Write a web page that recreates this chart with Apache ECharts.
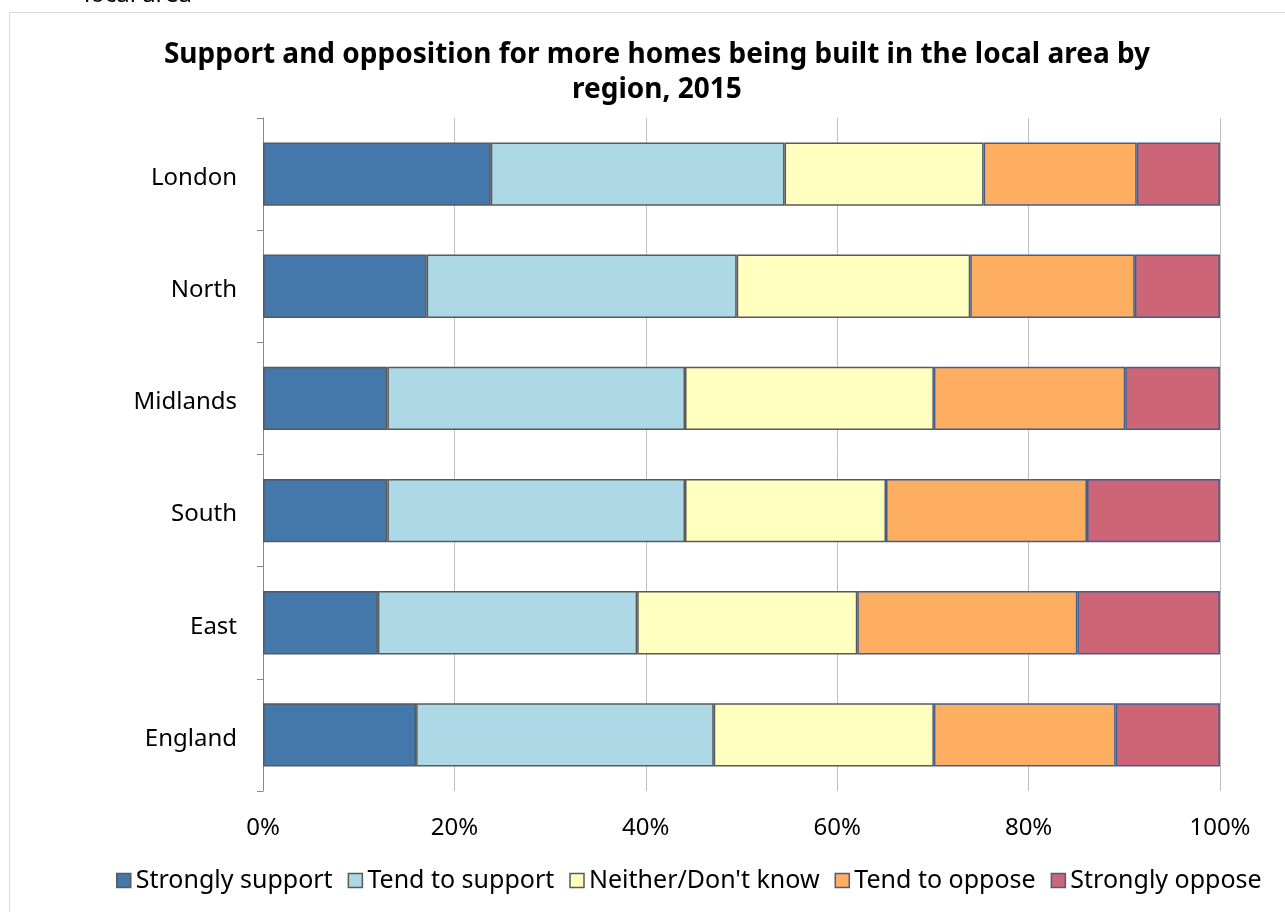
<!DOCTYPE html>
<html><head><meta charset="utf-8">
<script src="https://cdn.jsdelivr.net/npm/echarts@6/dist/echarts.min.js"></script>
<style>html,body{margin:0;padding:0;background:#fff}#c{width:1285px;height:912px}</style>
</head><body><div id="c"></div>
<script>
const categories = ["London","North","Midlands","South","East","England"];
const seriesNames = ["Strongly support","Tend to support","Neither/Don't know","Tend to oppose","Strongly oppose"];
const stronglySupport = [23.8,17.1,13.0,13.0,12.0,16.0];
const tendSupport     = [30.7,32.4,31.1,31.1,27.1,31.1];
const neither         = [20.8,24.4,26.0,21.0,23.0,23.0];
const tendOppose      = [16.0,17.2,20.0,21.0,23.0,19.0];
const stronglyOppose  = [8.7,8.9,9.9,13.9,14.9,10.9];
const xTicks = [0,20,40,60,80,100];

const colors = ["#4477AA","#ADD8E6","#FFFFC0","#FDAE61","#CC6677"];
const borders = ["#595959","#595959","#595959","#3F5F8F","#3F5F8F"];
const values = [stronglySupport,tendSupport,neither,tendOppose,stronglyOppose];
const FONT = "'Noto Sans','Open Sans',sans-serif";

const chart = echarts.init(document.getElementById('c'));
chart.setOption({
  animation:false,
  backgroundColor:'#fff',
  graphic:[
    {type:'rect',shape:{x:9.5,y:12.5,width:1290,height:920},style:{fill:'none',stroke:'#d9d9d9',lineWidth:1},z:-1},
    {type:'text',left:84,top:-17,style:{text:'local area',fontSize:24,fontFamily:FONT,fill:'#000'}}
  ],
  title:{
    text:'Support and opposition for more homes being built in the local area by\nregion, 2015',
    left:652,top:33,textAlign:'center',
    textStyle:{fontSize:28,fontWeight:'bold',fontFamily:FONT,color:'#000',lineHeight:35}
  },
  legend:{
    bottom:14,left:111,itemWidth:14,itemHeight:14,itemGap:15,
    textStyle:{fontSize:25,fontFamily:FONT,color:'#000'},
    data:seriesNames.map((n,i)=>({name:n,icon:'rect',itemStyle:{borderColor:borders[i],borderWidth:1.5}}))
  },
  grid:{left:263,right:65,top:118,bottom:121,containLabel:false},
  xAxis:{
    type:'value',min:0,max:100,interval:20,
    axisLine:{show:false},axisTick:{show:false},
    splitLine:{lineStyle:{color:'#c0c0c0',width:1}},
    axisLabel:{formatter:v=>xTicks.includes(v)?v+'%':'',fontSize:24,fontFamily:FONT,color:'#000',margin:25}
  },
  yAxis:{
    type:'category',data:categories,inverse:true,
    axisLine:{lineStyle:{color:'#888',width:1}},
    axisTick:{show:true,length:6,lineStyle:{color:'#888'}},
    axisLabel:{fontSize:24,fontFamily:FONT,color:'#000',margin:26,
      formatter:v=>'{a|'+v+'}',
      rich:{a:{fontSize:24,fontFamily:FONT,color:'#000',padding:[8,0,0,0]}}}
  },
  series:seriesNames.map((n,i)=>({
    name:n,type:'bar',stack:'total',data:values[i],barWidth:'56.5%',
    itemStyle:{color:colors[i],borderColor:borders[i],borderWidth:1.5}
  }))
});
</script></body></html>
